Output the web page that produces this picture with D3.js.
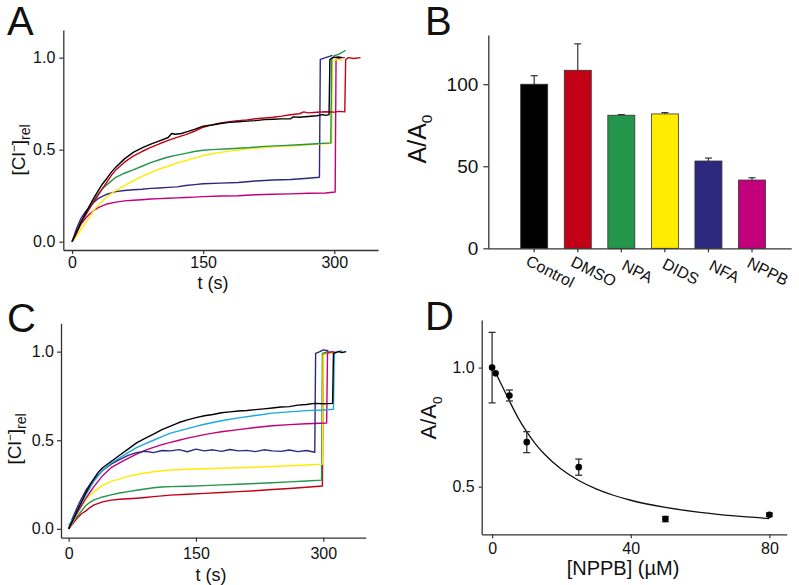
<!DOCTYPE html>
<html><head><meta charset="utf-8">
<script src="https://cdn.jsdelivr.net/npm/d3@7"></script>
<style>
body{margin:0;background:#fff;}
text{font-family:"Liberation Sans",Arial,Helvetica,sans-serif;fill:#111;}
</style></head>
<body><svg id="c" width="799" height="585"></svg>
<script>
// ---------- Panel A traces: [t (s), [Cl-]rel] ----------
const aControl=[[0,0],[5,0.05],[10,0.105],[15,0.15],[20,0.195],[25,0.238],[30,0.277],[35,0.315],[40,0.345],[45,0.378],[50,0.405],[60,0.45],[70,0.485],[80,0.51],[90,0.53],[100,0.548],[110,0.566],[114,0.588],[118,0.584],[125,0.588],[130,0.595],[140,0.61],[150,0.628],[160,0.634],[170,0.642],[180,0.648],[190,0.652],[200,0.655],[210,0.658],[220,0.663],[230,0.665],[240,0.667],[250,0.668],[253,0.678],[260,0.676],[270,0.68],[280,0.684],[287,0.69],[290,0.686],[294,0.69],[295,0.99],[298,1.0],[305,1.003],[309,1.0]];
const aDMSO=[[0,0],[5,0.045],[10,0.095],[15,0.14],[20,0.18],[25,0.218],[30,0.255],[35,0.29],[40,0.325],[45,0.36],[50,0.39],[60,0.432],[70,0.465],[80,0.49],[90,0.512],[100,0.532],[110,0.55],[120,0.567],[130,0.582],[140,0.6],[150,0.622],[160,0.635],[170,0.645],[180,0.652],[190,0.658],[200,0.662],[210,0.668],[220,0.672],[230,0.676],[240,0.682],[250,0.69],[260,0.695],[265,0.705],[270,0.7],[280,0.703],[290,0.706],[300,0.704],[306,0.708],[312,0.705],[313,0.99],[316,1.0],[322,0.995],[330,1.0]];
const aNPA=[[0,0],[5,0.05],[10,0.1],[15,0.145],[20,0.19],[25,0.225],[30,0.26],[35,0.29],[40,0.31],[50,0.35],[60,0.372],[70,0.39],[80,0.41],[90,0.43],[100,0.445],[110,0.46],[120,0.47],[130,0.48],[140,0.49],[150,0.497],[160,0.5],[180,0.505],[200,0.51],[220,0.518],[240,0.522],[260,0.527],[280,0.532],[296,0.537],[297,0.99],[300,1.01],[306,1.02],[313,1.04]];
const aDIDS=[[0,0],[5,0.03],[10,0.065],[15,0.1],[20,0.135],[25,0.17],[30,0.2],[40,0.245],[50,0.278],[60,0.305],[70,0.33],[80,0.355],[90,0.375],[100,0.395],[110,0.41],[120,0.428],[130,0.44],[140,0.455],[150,0.468],[160,0.478],[170,0.485],[180,0.492],[190,0.498],[200,0.503],[210,0.507],[220,0.512],[230,0.515],[240,0.518],[250,0.52],[260,0.523],[270,0.527],[280,0.53],[290,0.532],[297,0.535],[298,0.98],[304,0.99],[310,0.985]];
const aNFA=[[0,0],[5,0.07],[10,0.125],[15,0.16],[20,0.19],[25,0.215],[30,0.235],[40,0.258],[50,0.272],[60,0.278],[70,0.282],[80,0.285],[90,0.29],[100,0.292],[110,0.295],[120,0.298],[130,0.305],[140,0.31],[150,0.315],[170,0.318],[190,0.322],[210,0.33],[230,0.335],[250,0.338],[270,0.345],[283,0.35],[284,0.99],[290,1.0],[298,1.012]];
const aNPPB=[[0,0],[5,0.05],[10,0.095],[15,0.125],[20,0.15],[25,0.17],[30,0.185],[40,0.205],[50,0.215],[60,0.222],[70,0.225],[80,0.228],[90,0.232],[100,0.234],[110,0.236],[120,0.238],[130,0.24],[140,0.242],[150,0.245],[170,0.248],[190,0.25],[210,0.255],[230,0.258],[250,0.26],[270,0.263],[290,0.265],[301,0.27],[302,0.99],[308,1.0],[312,1.0]];

// ---------- Panel B bars ----------
const bCategories=["Control","DMSO","NPA","DIDS","NFA","NPPB"];
const bValues=[100,108.5,81.1,81.9,53.2,41.6];
const bErrors=[5.2,16.1,0.4,0.8,1.8,1.4];
const bColors=["#000000","#c20016","#24954b","#ffec00","#2d297e","#c2007b"];
const bTicks=[0,50,100];

// ---------- Panel C traces ----------
const cBlack=[[0,0],[5,0.05],[10,0.1],[15,0.15],[20,0.2],[25,0.245],[30,0.285],[35,0.32],[40,0.345],[50,0.38],[60,0.415],[70,0.45],[80,0.485],[90,0.51],[100,0.535],[110,0.56],[120,0.58],[130,0.6],[140,0.615],[150,0.628],[160,0.638],[170,0.645],[180,0.655],[190,0.66],[200,0.665],[210,0.668],[220,0.673],[230,0.677],[240,0.682],[250,0.688],[260,0.69],[270,0.698],[280,0.702],[290,0.708],[300,0.706],[311,0.708],[312,0.99],[318,1.0],[322,0.995],[327,1.0]];
const cCyan=[[0,0.02],[5,0.055],[10,0.1],[15,0.145],[20,0.19],[25,0.23],[30,0.27],[40,0.33],[50,0.37],[60,0.4],[70,0.43],[80,0.458],[90,0.48],[100,0.5],[110,0.52],[120,0.54],[130,0.553],[140,0.566],[150,0.578],[160,0.59],[170,0.6],[180,0.61],[200,0.626],[220,0.64],[240,0.653],[260,0.66],[280,0.667],[300,0.671],[312,0.675],[313,0.99],[317,1.0],[322,1.005]];
const cMagenta=[[0,0],[5,0.045],[10,0.09],[15,0.13],[20,0.17],[25,0.205],[30,0.24],[40,0.3],[50,0.345],[60,0.372],[70,0.398],[80,0.422],[90,0.443],[100,0.46],[110,0.475],[120,0.488],[130,0.5],[140,0.512],[150,0.522],[160,0.532],[170,0.54],[180,0.548],[200,0.56],[220,0.572],[240,0.582],[260,0.588],[280,0.593],[304,0.597],[305,0.99],[310,1.0],[315,0.995]];
const cNavy=[[0,0],[5,0.065],[10,0.12],[15,0.17],[20,0.215],[25,0.25],[30,0.28],[40,0.33],[50,0.365],[60,0.39],[70,0.415],[80,0.43],[90,0.438],[100,0.43],[110,0.442],[120,0.44],[130,0.447],[140,0.435],[150,0.45],[160,0.44],[170,0.446],[180,0.437],[190,0.448],[200,0.44],[210,0.443],[220,0.436],[230,0.446],[240,0.44],[250,0.437],[260,0.445],[270,0.436],[280,0.442],[290,0.432],[291,0.99],[296,1.0],[300,1.01],[306,1.005]];
const cYellow=[[0,0],[5,0.04],[10,0.085],[15,0.125],[20,0.16],[25,0.19],[30,0.21],[40,0.245],[50,0.268],[60,0.282],[70,0.296],[80,0.307],[90,0.315],[100,0.322],[120,0.332],[140,0.336],[160,0.339],[180,0.342],[200,0.345],[220,0.348],[240,0.352],[260,0.356],[280,0.36],[299,0.365],[300,0.98],[305,0.99],[312,0.99]];
const cGreen=[[0,0],[5,0.035],[10,0.07],[15,0.1],[20,0.13],[25,0.15],[30,0.163],[40,0.18],[50,0.192],[60,0.202],[70,0.21],[80,0.218],[90,0.225],[100,0.232],[110,0.236],[120,0.238],[140,0.24],[160,0.244],[180,0.248],[200,0.252],[220,0.256],[240,0.26],[260,0.265],[280,0.27],[298,0.275],[299,0.99],[305,1.0],[312,0.995]];
const cRed=[[0,0],[5,0.03],[10,0.06],[15,0.085],[20,0.1],[25,0.12],[30,0.135],[40,0.152],[50,0.162],[60,0.167],[70,0.17],[80,0.173],[90,0.177],[100,0.182],[120,0.19],[140,0.195],[160,0.2],[180,0.205],[200,0.21],[220,0.215],[240,0.222],[260,0.228],[280,0.235],[299,0.242],[300,0.98],[306,1.0]];

const traceTicksX=[0,150,300];
const traceTicksY=[0,0.5,1.0];

// ---------- Panel D ----------
const dConc=[0,1,5,10,25,50,80];
const dMean=[1.0,0.976,0.883,0.687,0.582,0.364,0.382];
const dErr=[0.148,0,0.023,0.044,0.034,0.011,0.007];
const dFitX=[1,3,5,7.5,10,12.5,15,20,25,30,35,40,50,60,70,80];
const dFitY=[0.979,0.92,0.86,0.789,0.73,0.68,0.638,0.573,0.526,0.491,0.464,0.443,0.413,0.392,0.377,0.366];
const dTicksX=[0,40,80];
const dTicksY=[0.5,1.0];

const svg=d3.select("#c");
svg.append("rect").attr("width",799).attr("height",585).attr("fill","#fff");
const AX="#333";

function styleAxis(g,fs){
  g.selectAll(".domain").attr("stroke",AX).attr("stroke-width",1.3);
  g.selectAll(".tick line").attr("stroke",AX).attr("stroke-width",1.2);
  g.selectAll(".tick text").attr("fill","#111").style("font-size",fs+"px").style("font-family",'"Liberation Sans",Arial,sans-serif');
}
function letter(t,x,y){
  svg.append("text").attr("x",x).attr("y",y).style("font-size","40px").text(t);
}
function clTitle(x,y){
  const t=svg.append("text").attr("transform",`translate(${x},${y}) rotate(-90)`).attr("text-anchor","middle").style("font-size","19px");
  t.append("tspan").text("[Cl");
  t.append("tspan").attr("dy",-7).style("font-size","12px").text("\u2212");
  t.append("tspan").attr("dy",7).text("]");
  t.append("tspan").attr("dy",5).style("font-size","14px").text("rel");
}
function aaTitle(x,y,fs){
  const t=svg.append("text").attr("transform",`translate(${x},${y}) rotate(-90)`).attr("text-anchor","middle").style("font-size",fs+"px");
  t.append("tspan").text("A/A");
  t.append("tspan").attr("dy",fs*0.25).style("font-size",(fs*0.62)+"px").text("0");
}

function tracePanel(series,x,y,tickSize,padX,padY){
  const line=d3.line().x(d=>x(d[0])).y(d=>y(d[1]));
  series.forEach(s=>{
    svg.append("path").datum(s.data).attr("fill","none").attr("stroke",s.color)
      .attr("stroke-width",1.4).attr("stroke-linejoin","round").attr("d",line);
  });
  const gx=svg.append("g").attr("transform",`translate(0,${y.range()[0]})`)
    .call(d3.axisBottom(x).tickValues(traceTicksX).tickSize(tickSize).tickSizeOuter(0).tickPadding(padX).tickFormat(d3.format("d")));
  styleAxis(gx,16);
  const gy=svg.append("g").attr("transform",`translate(${x.range()[0]},0)`)
    .call(d3.axisLeft(y).tickValues(traceTicksY).tickSize(tickSize).tickSizeOuter(0).tickPadding(padY).tickFormat(d3.format(".1f")));
  styleAxis(gy,16);
}

// ----- Panel A -----
const xA=d3.scaleLinear().domain([-10,350]).range([63.3,378]);
const yA=d3.scaleLinear().domain([-0.045,1.15]).range([250,30]);
tracePanel([
  {data:aNPPB,color:bColors[5]},{data:aNFA,color:bColors[4]},{data:aDIDS,color:bColors[3]},
  {data:aNPA,color:bColors[2]},{data:aDMSO,color:bColors[1]},{data:aControl,color:bColors[0]}
],xA,yA,4,3,4);
svg.append("text").attr("x",213).attr("y",289).attr("text-anchor","middle").style("font-size","18px").text("t (s)");
clTitle(25,150);
letter("A",7,35);

// ----- Panel B -----
const xB=d3.scaleBand().domain(bCategories).range([500,786.2]).paddingInner(0.38).paddingOuter(0.475);
const yB=d3.scaleLinear().domain([0,130]).range([248.3,35]);
const bData=bCategories.map((c,i)=>({c,v:bValues[i],e:bErrors[i],col:bColors[i]}));
const eb=svg.append("g");
bData.forEach(d=>{
  const cx=xB(d.c)+xB.bandwidth()/2;
  eb.append("line").attr("x1",cx).attr("x2",cx).attr("y1",yB(d.v)).attr("y2",yB(d.v+d.e)).attr("stroke","#333").attr("stroke-width",1.2);
  eb.append("line").attr("x1",cx-3.5).attr("x2",cx+3.5).attr("y1",yB(d.v+d.e)).attr("y2",yB(d.v+d.e)).attr("stroke","#333").attr("stroke-width",1.2);
});
svg.append("g").selectAll("rect").data(bData).join("rect")
  .attr("x",d=>xB(d.c)).attr("width",xB.bandwidth())
  .attr("y",d=>yB(d.v)).attr("height",d=>yB(0)-yB(d.v))
  .attr("fill",d=>d.col).attr("stroke","#333").attr("stroke-width",0.8);
const gxB=svg.append("g").attr("transform",`translate(0,${yB(0)})`)
  .call(d3.axisBottom(xB).tickSize(4).tickSizeOuter(0).tickFormat(""));
gxB.select(".domain").attr("d",`M488.3,0.5H791.7`);
styleAxis(gxB,16);
gxB.selectAll(".tick text").remove();
svg.append("g").selectAll("text").data(bCategories).join("text")
  .attr("transform",d=>`translate(${xB(d)+xB.bandwidth()/2+16},${yB(0)+23}) rotate(27)`)
  .attr("text-anchor","middle").attr("dy","0.35em").style("font-size","16px").text(d=>d);
const gyB=svg.append("g").attr("transform","translate(488.3,0)")
  .call(d3.axisLeft(yB).tickValues(bTicks).tickSize(5).tickSizeOuter(0).tickPadding(5));
styleAxis(gyB,19);
aaTitle(426,139,25);
letter("B",425,35);

// ----- Panel C -----
const xC=d3.scaleLinear().domain([-9,350]).range([61,365.7]);
const yC=d3.scaleLinear().domain([-0.05,1.16]).range([537.7,323.3]);
tracePanel([
  {data:cRed,color:bColors[1]},{data:cGreen,color:bColors[2]},{data:cYellow,color:bColors[3]},
  {data:cMagenta,color:bColors[5]},{data:cNavy,color:bColors[4]},{data:cCyan,color:"#1ba8e0"},{data:cBlack,color:"#000"}
],xC,yC,4,6,3);
svg.append("text").attr("x",211).attr("y",581).attr("text-anchor","middle").style("font-size","18px").text("t (s)");
clTitle(21,439);
letter("C",7,332);

// ----- Panel D -----
const xD=d3.scaleLinear().domain([-3,85]).range([481.7,786.7]);
const yD=d3.scaleLinear().domain([0.3,1.2]).range([534.3,320]);
const fit=dFitX.map((x,i)=>[x,dFitY[i]]);
svg.append("path").datum(fit).attr("fill","none").attr("stroke","#111").attr("stroke-width",1.3)
  .attr("d",d3.line().curve(d3.curveMonotoneX).x(d=>xD(d[0])).y(d=>yD(d[1])));
const pts=dConc.map((c,i)=>({c,m:dMean[i],e:dErr[i]}));
const ge=svg.append("g");
pts.filter(p=>p.e>0).forEach(p=>{
  const cx=xD(p.c);
  ge.append("line").attr("x1",cx).attr("x2",cx).attr("y1",yD(p.m-p.e)).attr("y2",yD(p.m+p.e)).attr("stroke","#333").attr("stroke-width",1.3);
  [p.m-p.e,p.m+p.e].forEach(v=>ge.append("line").attr("x1",cx-3.5).attr("x2",cx+3.5).attr("y1",yD(v)).attr("y2",yD(v)).attr("stroke","#333").attr("stroke-width",1.3));
});
svg.append("g").selectAll("circle").data(pts).join("circle")
  .attr("cx",d=>xD(d.c)).attr("cy",d=>yD(d.m)).attr("r",3.3).attr("fill","#000");
const gxD=svg.append("g").attr("transform",`translate(0,${yD.range()[0]})`)
  .call(d3.axisBottom(xD).tickValues(dTicksX).tickSize(4).tickSizeOuter(0).tickPadding(4));
styleAxis(gxD,16);
const gyD=svg.append("g").attr("transform",`translate(${xD.range()[0]},0)`)
  .call(d3.axisLeft(yD).tickValues(dTicksY).tickSize(3).tickSizeOuter(0).tickPadding(4).tickFormat(d3.format(".1f")));
styleAxis(gyD,16);
svg.append("text").attr("x",623).attr("y",575).attr("text-anchor","middle").style("font-size","20px").text("[NPPB] (\u00b5M)");
aaTitle(436,418,22);
letter("D",425,330);
</script></body></html>
